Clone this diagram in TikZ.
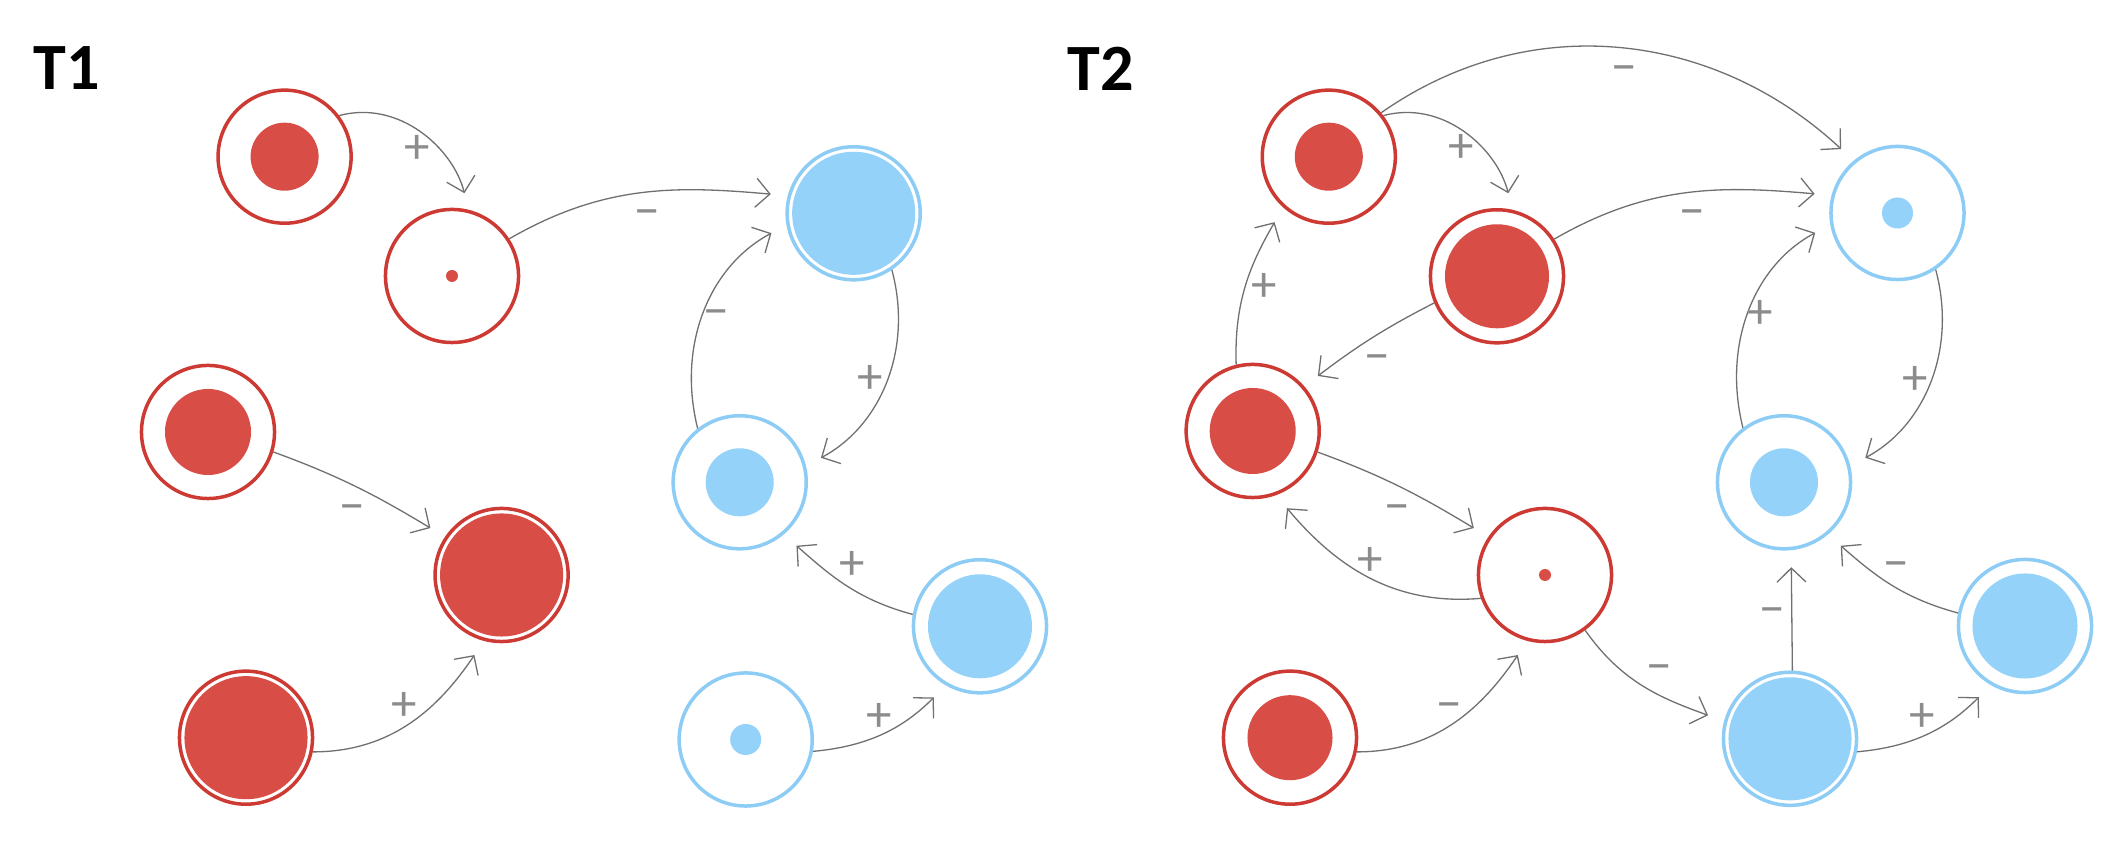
\documentclass[tikz,border=0pt]{standalone}
\usepackage{fontspec}
\newfontfamily\carlito{Carlito}
\usetikzlibrary{arrows.meta}
\definecolor{ringred}{HTML}{CC3A33}
\definecolor{fillred}{HTML}{D84E47}
\definecolor{ringblue}{HTML}{8DCDF5}
\definecolor{fillblue}{HTML}{95D2F9}
\definecolor{linegray}{HTML}{707070}
\definecolor{labgray}{HTML}{8C8C8C}
\begin{document}
\begin{tikzpicture}[x=0.01cm,y=0.01cm,
  ring/.style={circle, minimum size=1.33cm, inner sep=0pt, line width=0.035cm, fill=white},
  rn/.style={ring, draw=ringred},
  bn/.style={ring, draw=ringblue},
  core/.style 2 args={path picture={\fill[#1] (path picture bounding box.center) circle (#2);}},
  link/.style={draw=linegray, line width=0.013cm, shorten >=0.17cm, -{Straight Barb[length=0.14cm,width=0.29cm]}},
  sign/.style={text=labgray, font=\carlito\fontsize{14.5}{14.5}\selectfont, inner sep=0pt, text height=0.66em, text depth=0pt},
  title/.style={font=\carlito\bfseries\fontsize{18.8}{20}\selectfont, anchor=base west, inner sep=0pt},
]
\useasboundingbox[fill=white] (0,0) rectangle (2126,-862);

\node[title] (t1) at (33,-90) {T1};
\node[title] (t2) at (1067,-91) {T2};

% T1 nodes
\node[rn, core={fillred}{0.34cm}]  (A1) at (284.6,-156.7) {};
\node[rn, core={fillred}{0.06cm}]  (A2) at (452,-276) {};
\node[rn, core={fillred}{0.43cm}]  (A3) at (208,-432) {};
\node[rn, core={fillred}{0.615cm}] (A4) at (501.6,-575) {};
\node[rn, core={fillred}{0.615cm}] (A5) at (246,-737.7) {};
\node[bn, core={fillblue}{0.615cm}] (B1) at (853.7,-213.3) {};
\node[bn, core={fillblue}{0.34cm}]  (B2) at (739.7,-482.3) {};
\node[bn, core={fillblue}{0.52cm}]  (B3) at (980,-626.3) {};
\node[bn, core={fillblue}{0.155cm}] (B4) at (745.7,-739.5) {};

% T2 nodes
\node[rn, core={fillred}{0.34cm}]  (C1) at (1328.8,-156.7) {};
\node[rn, core={fillred}{0.52cm}]  (C2) at (1497,-276.3) {};
\node[rn, core={fillred}{0.43cm}]  (C3) at (1252.7,-431) {};
\node[rn, core={fillred}{0.06cm}]  (C4) at (1545,-575) {};
\node[rn, core={fillred}{0.425cm}] (C5) at (1290,-737.7) {};
\node[bn, core={fillblue}{0.155cm}] (D1) at (1897.5,-213) {};
\node[bn, core={fillblue}{0.34cm}]  (D2) at (1784,-482.3) {};
\node[bn, core={fillblue}{0.615cm}] (D3) at (1790,-738.8) {};
\node[bn, core={fillblue}{0.525cm}] (D4) at (2025,-626) {};

% T1 links
\draw[link] (A1.37) to[out=15,in=104] (A2.76);
\draw[link] (A2.33) to[out=30,in=175] (B1.165);
\draw[link] (B2.128) to[out=104,in=-152] (B1.190);
\draw[link] (B1.-56) to[out=-75,in=28] (B2.14);
\draw[link] (B3.170) to[out=165,in=-41] (B2.-50);
\draw[link] (B4.-10) to[out=5,in=-135] (B3.-120);
\draw[link] (A3.-17) to[out=-20,in=149] (A4.146);
\draw[link] (A5.-12) to[out=0,in=-124] (A4.-105);

% T2 links
\draw[link] (C1.37) to[out=15,in=104] (C2.77);
\draw[link] (C1.40) to[out=35,in=137] (D1.130);
\draw[link] (C2.33) to[out=30,in=175] (D1.165);
\draw[link] (D2.127) to[out=104,in=-152] (D1.190);
\draw[link] (D1.-56) to[out=-75,in=28] (D2.14);
\draw[link] (C2.203) to[out=207,in=37] (C3.41);
\draw[link] (C3.104) to[out=92,in=-120] (C1.228);
\draw[link] (C3.-18) to[out=-20,in=149] (C4.146);
\draw[link] (C4.200) to[out=185,in=-50] (C3.-70);
\draw[link] (C5.-12) to[out=0,in=-124] (C4.-105);
\draw[link] (C4.-54) to[out=-55,in=160] (D3.165);
\draw[link] (D3.88) -- (D2.-84);
\draw[link] (D4.169) to[out=165,in=-41] (D2.-50);
\draw[link] (D3.-11) to[out=5,in=-135] (D4.-120);

% T1 signs
\node[sign] (s1) at (417,-152) {+};
\node[sign] (s2) at (647,-216) {−};
\node[sign] (s3) at (716.5,-316) {−};
\node[sign] (s4) at (870.5,-382) {+};
\node[sign] (s5) at (852,-568) {+};
\node[sign] (s6) at (879,-720) {+};
\node[sign] (s7) at (352,-511) {−};
\node[sign] (s8) at (404.5,-709.3) {+};

% T2 signs
\node[sign] (u1) at (1461.6,-151) {+};
\node[sign] (u2) at (1624.5,-72) {−};
\node[sign] (u3) at (1692.4,-216) {−};
\node[sign] (u4) at (1760.5,-316.5) {+};
\node[sign] (u5) at (1915,-382.7) {+};
\node[sign] (u6) at (1376.8,-361) {−};
\node[sign] (u7) at (1263.8,-290) {+};
\node[sign] (u8) at (1397,-511) {−};
\node[sign] (u9) at (1370,-564) {+};
\node[sign] (u10) at (1449,-708.5) {−};
\node[sign] (u11) at (1659.3,-671) {−};
\node[sign] (u12) at (1772.2,-614) {−};
\node[sign] (u13) at (1896,-567.5) {−};
\node[sign] (u14) at (1922,-720) {+};
\end{tikzpicture}
\end{document}
